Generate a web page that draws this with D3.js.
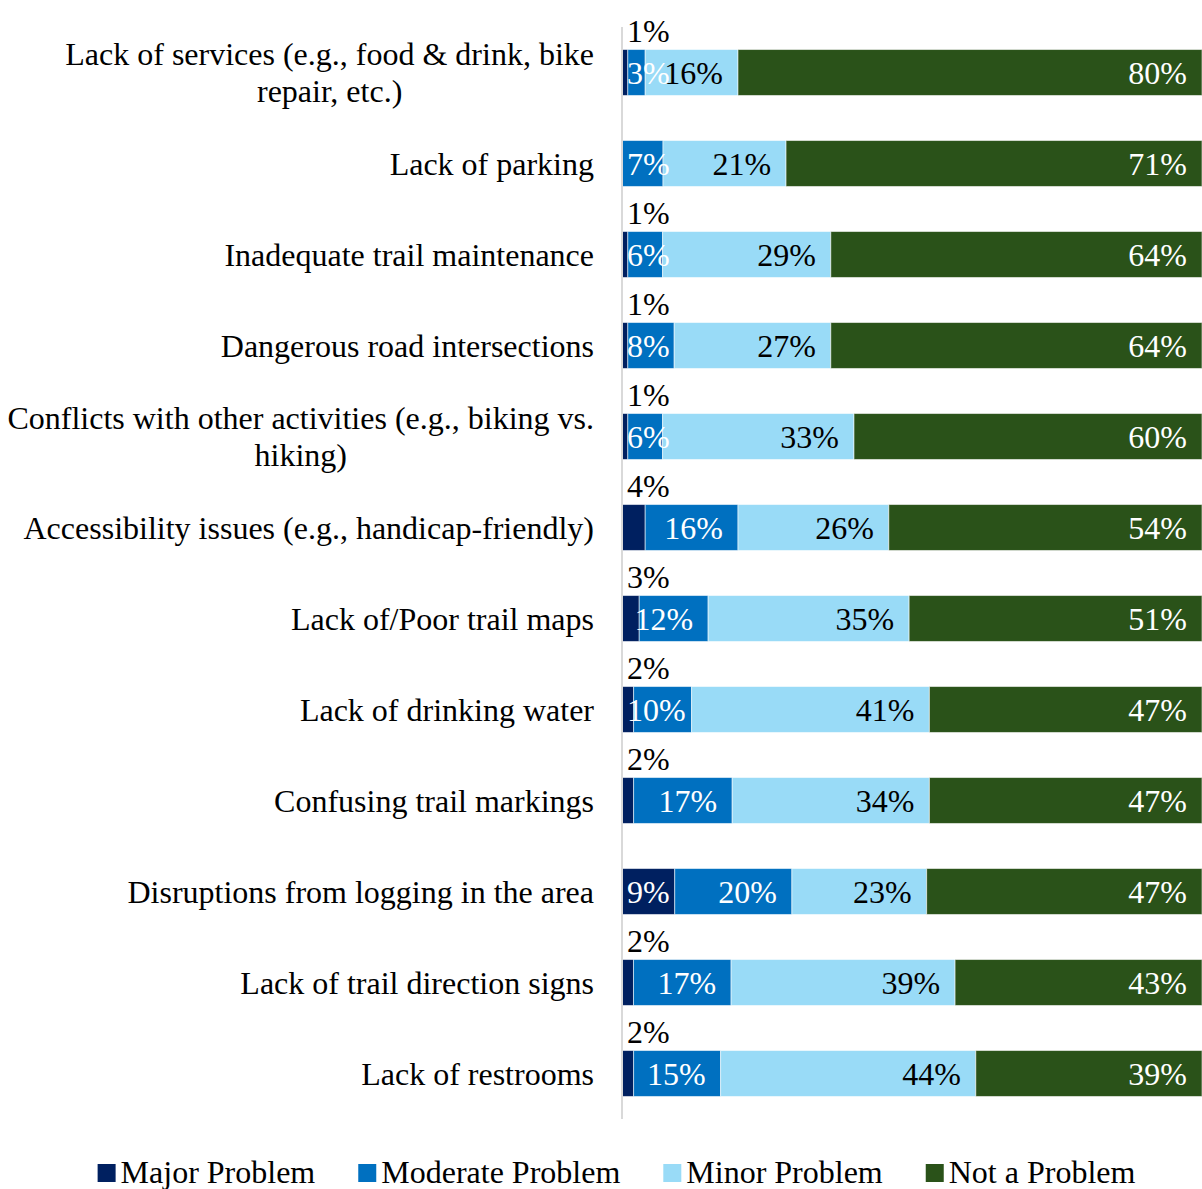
<!DOCTYPE html>
<html>
<head>
<meta charset="utf-8">
<script src="https://cdn.jsdelivr.net/npm/d3@7"></script>
<style>
  html, body { margin: 0; padding: 0; background: #fff; }
  svg text { font-family: "Liberation Serif", "Times New Roman", serif; }
</style>
</head>
<body>
<svg id="chart" width="1202" height="1189"></svg>
<script>
// Trail issues survey: share of respondents rating each issue
const categories = [
  "Lack of services (e.g., food & drink, bike repair, etc.)",
  "Lack of parking",
  "Inadequate trail maintenance",
  "Dangerous road intersections",
  "Conflicts with other activities (e.g., biking vs. hiking)",
  "Accessibility issues (e.g., handicap-friendly)",
  "Lack of/Poor trail maps",
  "Lack of drinking water",
  "Confusing trail markings",
  "Disruptions from logging in the area",
  "Lack of trail direction signs",
  "Lack of restrooms"
];
const seriesNames = ["Major Problem", "Moderate Problem", "Minor Problem", "Not a Problem"];
const majorProblem    = [1, 0, 1, 1, 1, 4, 3, 2, 2, 9, 2, 2];
const moderateProblem = [3, 7, 6, 8, 6, 16, 12, 10, 17, 20, 17, 15];
const minorProblem    = [16, 21, 29, 27, 33, 26, 35, 41, 34, 23, 39, 44];
const notAProblem     = [80, 71, 64, 64, 60, 54, 51, 47, 47, 47, 43, 39];

const colors = ["#002060", "#0070c0", "#99dbf7", "#2a5219"];
const labelColors = ["#fff", "#fff", "#000", "#fff"];
const FONT = 32;

const rows = categories.map((c, i) => ({
  category: c,
  "Major Problem": majorProblem[i],
  "Moderate Problem": moderateProblem[i],
  "Minor Problem": minorProblem[i],
  "Not a Problem": notAProblem[i]
}));

const svg = d3.select("#chart");
const x0 = 622, x1 = 1202, yTop = 27, yBottom = 1119;

const x = d3.scaleLinear().domain([0, 1]).range([x0, x1]);
const y = d3.scaleBand().domain(categories).range([yTop, yBottom])
  .paddingInner(0.495).paddingOuter(0.2475);

const stacked = d3.stack().keys(seriesNames).offset(d3.stackOffsetExpand)(rows);

// bars
const layers = svg.append("g").selectAll("g").data(stacked).join("g")
  .attr("fill", (d, i) => colors[i]);
layers.selectAll("rect").data(d => d).join("rect")
  .attr("x", d => x(d[0]))
  .attr("y", d => y(d.data.category))
  .attr("width", d => Math.max(0, x(d[1]) - x(d[0])))
  .attr("height", y.bandwidth())
  .attr("stroke", "#fff").attr("stroke-opacity", 0.55).attr("stroke-width", 1);

// vertical category axis line
svg.append("line")
  .attr("x1", x0).attr("x2", x0).attr("y1", yTop).attr("y2", yBottom)
  .attr("stroke", "#d9d9d9").attr("stroke-width", 2);

// value labels
const labelG = svg.append("g").attr("font-size", FONT);
stacked.forEach((layer, si) => {
  layer.forEach(d => {
    const v = d.data[layer.key];
    if (!v) return;
    const txt = v + "%";
    const cy = y(d.data.category) + y.bandwidth() / 2;
    if (si === 0 && v < 5) {
      // small values sit above the bar
      labelG.append("text").attr("x", x0 + 5).attr("y", y(d.data.category) - 8)
        .attr("fill", "#000").text(txt);
      return;
    }
    const t = labelG.append("text").attr("y", cy + 11)
      .attr("fill", labelColors[si]).text(txt);
    const w = t.node().getComputedTextLength();
    let left = x(d[1]) - 15 - w;
    if (left < x0 + 5) left = x0 + 5;
    t.attr("x", left);
  });
});

// category labels, wrapped and centred as a block right-aligned to the axis
const catG = svg.append("g").attr("font-size", FONT).attr("fill", "#000");
const maxW = 592, rightEdge = 594, lineH = 37;
categories.forEach(c => {
  const probe = catG.append("text");
  const words = c.split(" ");
  const lines = [];
  let cur = "";
  words.forEach(wd => {
    const test = cur ? cur + " " + wd : wd;
    probe.text(test);
    if (probe.node().getComputedTextLength() > maxW && cur) {
      lines.push(cur); cur = wd;
    } else cur = test;
  });
  lines.push(cur);
  const widths = lines.map(l => { probe.text(l); return probe.node().getComputedTextLength(); });
  probe.remove();
  const blockW = d3.max(widths);
  const cx = rightEdge - blockW / 2;
  const cy = y(c) + y.bandwidth() / 2;
  const t = catG.append("text").attr("text-anchor", "middle");
  lines.forEach((l, i) => {
    t.append("tspan").attr("x", cx)
      .attr("y", cy + 11 + (i - (lines.length - 1) / 2) * lineH)
      .text(l);
  });
});

// legend
const legend = svg.append("g").attr("font-size", FONT);
const sq = 18, gapText = 5, gapItem = 43;
const items = seriesNames.map((n, i) => {
  const g = legend.append("g");
  g.append("rect").attr("width", sq).attr("height", sq).attr("y", -sq - 1).attr("fill", colors[i]);
  const t = g.append("text").attr("x", sq + gapText).attr("y", 0).text(n);
  return { g, w: sq + gapText + t.node().getComputedTextLength() };
});
const totalW = d3.sum(items, d => d.w) + gapItem * (items.length - 1);
let lx = 616.5 - totalW / 2;
items.forEach(it => {
  it.g.attr("transform", `translate(${lx},1183)`);
  lx += it.w + gapItem;
});
</script>
</body>
</html>
